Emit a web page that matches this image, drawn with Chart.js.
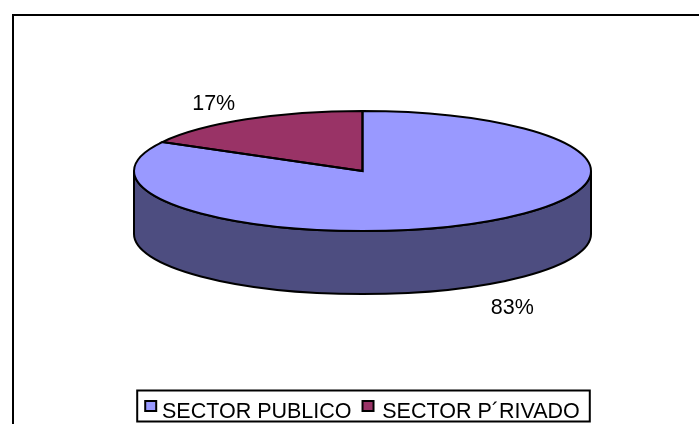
<!DOCTYPE html>
<html>
<head>
<meta charset="utf-8">
<style>
html, body { margin: 0; padding: 0; background: #fff; overflow: hidden; width: 699px; height: 424px; }
canvas { display: block; }
</style>
<script src="https://cdn.jsdelivr.net/npm/chart.js@4"></script>
</head>
<body>
<canvas id="canvasChart" width="725" height="440"></canvas>
<script>
var categories = ['SECTOR PUBLICO', 'SECTOR P\u00B4RIVADO'];
var shares = [83, 17];
var sliceColors = ['#9999FF', '#993366'];
var sideColor = '#4D4D80';

// shape of the flattened pie
var centerY = 171, radiusX = 228.5, radiusY = 60, depth = 63;
var labelFont = '21.5px "Liberation Sans"';
var labelOffsets = [[33.5, 85.5], [-32.5, -15]];
var swatchNudge = [0, -3];

var pie3d = {
    id: 'pie3d',
    beforeDatasetsDraw: function (chart) {
        var ctx = chart.ctx;
        var arc = chart.getDatasetMeta(0).data[0];

        // wall under the front half
        ctx.save();
        ctx.beginPath();
        ctx.ellipse(arc.x, centerY, radiusX, radiusY, 0, 0, Math.PI);
        ctx.lineTo(arc.x - radiusX, centerY + depth);
        ctx.ellipse(arc.x, centerY + depth, radiusX, radiusY, 0, Math.PI, 0, true);
        ctx.closePath();
        ctx.fillStyle = sideColor;
        ctx.fill();
        ctx.lineWidth = 2;
        ctx.strokeStyle = '#000';
        ctx.stroke();
        ctx.restore();

        // squash the circle chart.js draws
        ctx.save();
        ctx.translate(arc.x, centerY);
        ctx.scale(radiusX / arc.outerRadius, radiusY / arc.outerRadius);
        ctx.translate(-arc.x, -arc.y);
    },
    afterDatasetsDraw: function (chart) {
        var ctx = chart.ctx;
        ctx.restore();

        chart.getDatasetMeta(0).data.forEach(function (arc, i) {
            var mid = (arc.startAngle + arc.endAngle) / 2;

            ctx.save();
            ctx.beginPath();
            ctx.moveTo(arc.x, centerY);
            ctx.ellipse(arc.x, centerY, radiusX, radiusY, 0, arc.startAngle, arc.endAngle);
            ctx.closePath();
            ctx.lineWidth = 2;
            ctx.strokeStyle = '#000';
            ctx.stroke();

            ctx.font = labelFont;
            ctx.fillStyle = '#000';
            ctx.textAlign = 'center';
            ctx.textBaseline = 'middle';
            ctx.fillText(shares[i] + '%',
                arc.x + radiusX * Math.cos(mid) + labelOffsets[i][0],
                centerY + radiusY * Math.sin(mid) + labelOffsets[i][1]);
            ctx.restore();
        });
    },
    afterDraw: function (chart) {
        var ctx = chart.ctx;
        var boxes = chart.legend.legendHitBoxes;
        var last = boxes[boxes.length - 1];
        var left = boxes[0].left - 8;
        var right = last.left + last.width + 10;

        ctx.save();
        ctx.strokeStyle = '#000';
        ctx.lineWidth = 2;
        ctx.strokeRect(left, boxes[0].top - 11, right - left, 31);
        ctx.strokeRect(13, 15, 800, 500);

        // swatches sit closer to their text than the legend allows
        boxes.forEach(function (box, i) {
            ctx.fillStyle = sliceColors[i];
            ctx.fillRect(box.left + swatchNudge[i], box.top - 0.5, 11, 10);
            ctx.strokeRect(box.left + swatchNudge[i], box.top - 0.5, 11, 10);
        });
        ctx.restore();
    }
};

var chartObject = new Chart(document.getElementById('canvasChart').getContext('2d'), {
    type: 'pie',
    plugins: [pie3d],
    data: {
        labels: categories,
        datasets: [{
            data: shares,
            backgroundColor: sliceColors,
            borderWidth: 0
        }]
    },
    options: {
        responsive: false,
        animation: false,
        events: [],
        layout: { padding: { top: 20, bottom: 7 } },
        plugins: {
            tooltip: { enabled: false },
            legend: {
                position: 'bottom',
                labels: {
                    color: '#000',
                    font: { family: 'Liberation Sans', size: 21.5 },
                    boxWidth: 6,
                    boxHeight: 1,
                    padding: 14,
                    generateLabels: function (chart) {
                        return Chart.overrides.pie.plugins.legend.labels.generateLabels(chart).map(function (item) {
                            item.fillStyle = 'rgba(0,0,0,0)';
                            item.lineWidth = 0;
                            return item;
                        });
                    }
                }
            }
        }
    }
});
</script>
</body>
</html>
